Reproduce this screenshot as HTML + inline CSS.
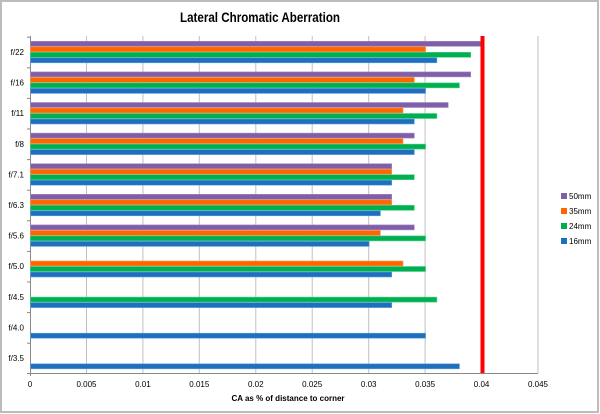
<!DOCTYPE html>
<html><head><meta charset="utf-8"><style>
html,body{margin:0;padding:0;background:#fff;}
svg{display:block;}
text{font-family:"Liberation Sans",sans-serif;}
</style></head><body>
<svg width="600" height="414" viewBox="0 0 600 414" xmlns="http://www.w3.org/2000/svg">
<rect x="1" y="1" width="597" height="411" fill="#fff" stroke="#bcbcbc" stroke-width="2"/>
<text x="260" y="22" text-anchor="middle" font-size="14" font-weight="bold" fill="#000" textLength="160" lengthAdjust="spacingAndGlyphs">Lateral Chromatic Aberration</text>
<g stroke="#c0c0c0" stroke-width="1">
<line x1="86.5" y1="36" x2="86.5" y2="373"/>
<line x1="142.9" y1="36" x2="142.9" y2="373"/>
<line x1="199.3" y1="36" x2="199.3" y2="373"/>
<line x1="255.8" y1="36" x2="255.8" y2="373"/>
<line x1="312.2" y1="36" x2="312.2" y2="373"/>
<line x1="368.7" y1="36" x2="368.7" y2="373"/>
<line x1="425.1" y1="36" x2="425.1" y2="373"/>
<line x1="481.6" y1="36" x2="481.6" y2="373"/>
<line x1="538" y1="36" x2="538" y2="373"/>
</g>
<g stroke="#888" stroke-width="1">
<line x1="30.5" y1="36" x2="30.5" y2="376"/>
<line x1="27" y1="373.5" x2="538" y2="373.5"/>
</g>
<g id="bars"></g>
<rect x="480.5" y="36" width="4" height="337" fill="#ff0000"/>
<g font-size="8" fill="#000" text-anchor="end" id="ylab"></g>
<g font-size="8" fill="#000" text-anchor="middle">
<text x="30" y="387">0</text><text x="86.5" y="387">0.005</text><text x="142.9" y="387">0.01</text><text x="199.3" y="387">0.015</text><text x="255.8" y="387">0.02</text><text x="312.2" y="387">0.025</text><text x="368.7" y="387">0.03</text><text x="425.1" y="387">0.035</text><text x="481.6" y="387">0.04</text><text x="538" y="387">0.045</text>
</g>
<text x="288" y="401" text-anchor="middle" font-size="8" font-weight="bold">CA as % of distance  to corner</text>
<g font-size="8" fill="#000">
<rect x="561" y="193" width="6" height="6" fill="#7f5fa8"/><text x="569" y="199">50mm</text>
<rect x="561" y="208" width="6" height="6" fill="#ff6600"/><text x="569" y="214">35mm</text>
<rect x="561" y="223" width="6" height="6" fill="#00b050"/><text x="569" y="229">24mm</text>
<rect x="561" y="238" width="6" height="6" fill="#1f6fbf"/><text x="569" y="244">16mm</text>
</g>
<script>
var d=[["f/22",[.040,.035,.039,.036]],["f/16",[.039,.034,.038,.035]],["f/11",[.037,.033,.036,.034]],["f/8",[.034,.033,.035,.034]],["f/7.1",[.032,.032,.034,.032]],["f/6.3",[.032,.032,.034,.031]],["f/5.6",[.034,.031,.035,.030]],["f/5.0",[0,.033,.035,.032]],["f/4.5",[0,0,.036,.032]],["f/4.0",[0,0,0,.035]],["f/3.5",[0,0,0,.038]]];
var col=["#7f5fa8","#ff6600","#00b050","#1f6fbf"],str=["#a58cc4","#ff9a5a","#4fd08a","#5fa0dc"];
var ns="http://www.w3.org/2000/svg",g=document.getElementById("bars"),yl=document.getElementById("ylab");
d.forEach(function(r,i){var c=52+i*30.6;
var t=document.createElementNS(ns,"text");t.setAttribute("x",24);t.setAttribute("y",c+3);t.textContent=r[0];yl.appendChild(t);
var tk=document.createElementNS(ns,"line");tk.setAttribute("x1",27);tk.setAttribute("x2",30);tk.setAttribute("y1",c-15.3+0.5);tk.setAttribute("y2",c-15.3+0.5);tk.setAttribute("stroke","#888");g.appendChild(tk);
r[1].forEach(function(v,j){if(!v)return;var w=v/0.005*56.44;var e=document.createElementNS(ns,"rect");
e.setAttribute("x",30.5);e.setAttribute("y",c-11+j*5.5+0.3);e.setAttribute("width",w);e.setAttribute("height",5);e.setAttribute("fill",col[j]);e.setAttribute("stroke",str[j]);e.setAttribute("stroke-width",0.6);g.appendChild(e);});});
</script>
</svg>
</body></html>
